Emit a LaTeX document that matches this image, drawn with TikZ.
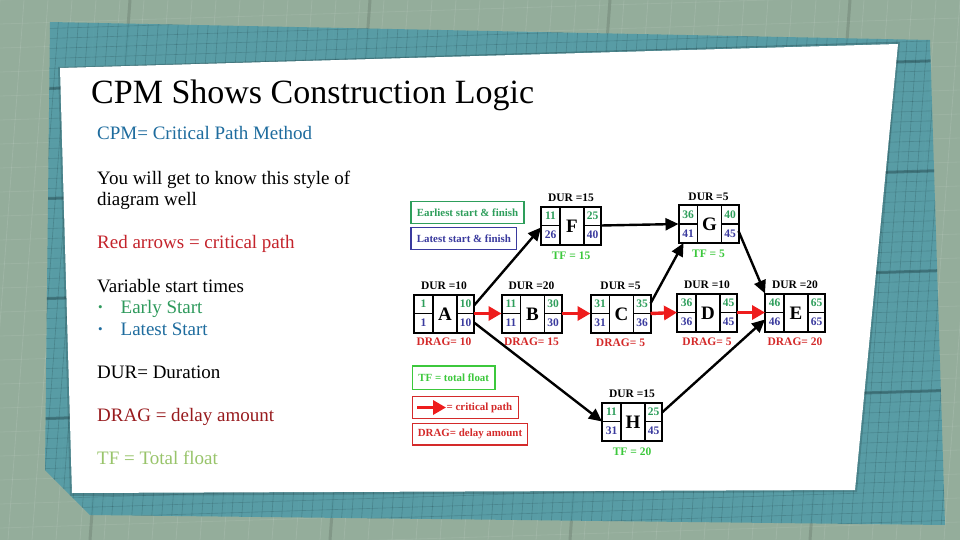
\documentclass[tikz,border=0pt]{standalone}
\usepackage{fontspec}
\setmainfont{Liberation Serif}
\usetikzlibrary{arrows.meta,calc}
\definecolor{sage}{HTML}{94AD9B}
\definecolor{tealbg}{HTML}{4E9AA7}
\definecolor{ngreen}{HTML}{2E9E5B}
\definecolor{nblue}{HTML}{3A3A9E}
\definecolor{dred}{HTML}{D42A2A}
\definecolor{cpred}{HTML}{EE1C1C}
\definecolor{tfgreen}{HTML}{3CC83C}
\definecolor{txtblue}{HTML}{1E6C9E}
\definecolor{txtgreen}{HTML}{2E9A5C}
\definecolor{txtred}{HTML}{C4232B}
\definecolor{txtdred}{HTML}{981B1E}
\definecolor{txtlgreen}{HTML}{98C46A}
\newcommand\cpmbox[9]{%
  \node[cpmb] (#1) at (#2,#3) {};
  \draw[cpml] ($(#1.north west)+(19,0)$) -- ($(#1.south west)+(19,0)$);
  \draw[cpml] ($(#1.north east)+(-17,0)$) -- ($(#1.south east)+(-17,0)$);
  \draw[cpml] (#1.west) -- ++(19,0);
  \draw[cpml] (#1.east) -- ++(-17,0);
  \node[cnum, text=ngreen] (#1-es) at ($(#1.north west)+(9.5,9.5)$) {#5};
  \node[cnum, text=ngreen] (#1-ef) at ($(#1.north east)+(-8.5,9.5)$) {#6};
  \node[cnum, text=nblue] (#1-ls) at ($(#1.south west)+(9.5,-9.5)$) {#7};
  \node[cnum, text=nblue] (#1-lf) at ($(#1.south east)+(-8.5,-9.5)$) {#8};
  \node[letter] (#1-id) at ($(#1.center)+(1,0.5)$) {#4};
  \node[durl] (#1-dur) at ($(#1.north)+(0,-8.5)$) {DUR =#9};
}
\begin{document}
\begin{tikzpicture}[x=1pt,y=-1pt,
  cpmb/.style={draw, line width=2pt, minimum width=60pt, minimum height=38pt, inner sep=0pt, outer sep=0pt},
  cpml/.style={line width=1.4pt},
  cnum/.style={font=\fontsize{11.5}{11.5}\selectfont\bfseries, inner sep=0pt},
  letter/.style={font=\fontsize{19}{19}\selectfont\bfseries, inner sep=0pt},
  durl/.style={font=\fontsize{11.5}{11.5}\selectfont\bfseries, inner sep=0pt},
  dragl/.style={font=\fontsize{11.5}{11.5}\selectfont\bfseries, text=dred, inner sep=0pt},
  tfl/.style={font=\fontsize{11.5}{11.5}\selectfont\bfseries, text=tfgreen, inner sep=0pt},
  leg/.style={font=\fontsize{10.9}{10.9}\selectfont\bfseries, line width=1.4pt, inner sep=0pt},
  blk/.style={draw=black, line width=2.4pt, -{Triangle[length=13pt,width=12pt]}},
  crit/.style={draw=cpred, line width=3.4pt, -{Triangle[length=13pt,width=14pt]}},
  lefttxt/.style={font=\fontsize{19}{19}\selectfont, anchor=base west, inner sep=0pt},
]
\useasboundingbox (0,0) rectangle (960,540);
% background
\fill[sage] (0,0) rectangle (960,540);
\begin{scope}
  \clip (0,0) rectangle (960,540);
  \foreach \i in {0,24,...,1000} \draw[white, opacity=0.10, line width=0.8pt] (\i,0) -- (\i-40,540);
  \foreach \j in {0,24,...,560} \draw[white, opacity=0.08, line width=0.8pt] (0,\j) -- (960,\j-30);
  \foreach \i in {130,370,610,850} \draw[black!40!sage, opacity=0.3, line width=3pt] (\i,0) -- (\i-40,540);
\end{scope}
\fill[tealbg, opacity=0.85] (50,22) -- (930,40) -- (945,525) -- (90,515) -- (45,470) -- cycle;
\begin{scope}
  \clip (50,22) -- (930,40) -- (945,525) -- (90,515) -- (45,470) -- cycle;
  \foreach \i in {0,10,...,1000} \draw[black!60!tealbg, opacity=0.25, line width=0.6pt] (\i,0) -- (\i-40,540);
  \foreach \j in {0,10,...,560} \draw[black!60!tealbg, opacity=0.22, line width=0.6pt] (0,\j) -- (960,\j-30);
  \foreach \j in {90,200,300,420} \draw[black!60!tealbg, opacity=0.4, line width=3pt] (0,\j) -- (960,\j-30);
\end{scope}
% card
\fill[black, opacity=0.15] (58,67) -- (900,42) -- (857,492) -- (70,496) -- cycle;
\fill[white] (60,68) -- (898,44) -- (855,490) -- (72,493) -- cycle;

% left text
\node[anchor=base west, inner sep=0pt, font=\fontsize{34}{34}\selectfont] (title) at (91,104) {CPM Shows Construction Logic};
\node[lefttxt, text=txtblue] (t1) at (97,140) {CPM= Critical Path Method};
\node[lefttxt] (t2) at (97,185) {You will get to know this style of};
\node[lefttxt] (t3) at (97,205.5) {diagram well};
\node[lefttxt, text=txtred] (t4) at (97,248) {Red arrows = critical path};
\node[lefttxt] (t5) at (97,292) {Variable start times};
\node[lefttxt, text=txtgreen, font=\fontsize{13}{13}\selectfont] (b1) at (98,311.5) {•};
\node[lefttxt, text=txtgreen] (t6) at (120.5,313) {Early Start};
\node[lefttxt, text=txtblue, font=\fontsize{13}{13}\selectfont] (b2) at (98,333.5) {•};
\node[lefttxt, text=txtblue] (t7) at (120.5,335) {Latest Start};
\node[lefttxt] (t8) at (97,378) {DUR= Duration};
\node[lefttxt, text=txtdred] (t9) at (97,421) {DRAG = delay amount};
\node[lefttxt, text=txtlgreen] (t10) at (97,464) {TF = Total float};

% legend
\node[leg, draw=ngreen, text=ngreen, minimum width=113pt, minimum height=21.6pt] (l1) at (467.5,212.5) {Earliest start \& finish};
\node[leg, draw=nblue, text=nblue, minimum width=105.7pt, minimum height=21.6pt] (l2) at (463.9,238.5) {Latest start \& finish};
\node[leg, draw=tfgreen, text=tfgreen, minimum width=82.7pt, minimum height=23.3pt] (l3) at (453.7,377.7) {TF = total float};
\node[leg, draw=dred, minimum width=106pt, minimum height=21.6pt] (l4) at (465.3,407.5) {};
\node[leg, text=dred, anchor=west] (l4t) at (446,407.5) {= critical path};
\coordinate (l4a) at (417,407.5);
\draw[crit] (l4a) -- (l4t.west);
\node[leg, draw=dred, text=dred, minimum width=115.4pt, minimum height=21.7pt] (l5) at (470,434.2) {DRAG= delay amount};

% boxes
\cpmbox{A}{444}{313.5}{A}{1}{10}{1}{10}{10}
\cpmbox{B}{531.5}{313.5}{B}{11}{30}{11}{30}{20}
\cpmbox{C}{620.5}{313.5}{C}{31}{35}{31}{36}{5}
\cpmbox{D}{707}{312.5}{D}{36}{45}{36}{45}{10}
\cpmbox{E}{795}{312.5}{E}{46}{65}{46}{65}{20}
\cpmbox{F}{571}{225.5}{F}{11}{25}{26}{40}{15}
\cpmbox{G}{708.5}{224}{G}{36}{40}{41}{45}{5}
\cpmbox{H}{632}{421.5}{H}{11}{25}{31}{45}{15}

\node[dragl] (A-drag) at ($(A.south)+(0,9.5)$) {DRAG= 10};
\node[dragl] (B-drag) at ($(B.south)+(0,9.5)$) {DRAG= 15};
\node[dragl] (C-drag) at ($(C.south)+(0,10.5)$) {DRAG= 5};
\node[dragl] (D-drag) at ($(D.south)+(0,10.5)$) {DRAG= 5};
\node[dragl] (E-drag) at ($(E.south)+(0,10.5)$) {DRAG= 20};
\node[tfl] (F-tf) at ($(F.south)+(0,11)$) {TF = 15};
\node[tfl] (G-tf) at ($(G.south)+(0,11)$) {TF = 5};
\node[tfl] (H-tf) at ($(H.south)+(0,11)$) {TF = 20};

% connectors
\draw[crit] (A.east) -- (B.west);
\draw[crit] (B.east) -- (C.west);
\draw[crit] (C.east) -- (D.west);
\draw[crit] (D.east) -- (E.west);
\draw[blk] ($(A.north east)+(0,11)$) -- ($(F.west)+(0,2)$);
\draw[blk] ($(A.south east)+(0,-10)$) -- (H.west);
\draw[blk] (F.east) -- (G.west);
\draw[blk] ($(C.north east)+(0,9)$) -- ($(G.south west)+(5,0)$);
\draw[blk] ($(G.south east)+(0,-12)$) -- (E.north west);
\draw[blk] ($(H.north east)+(0,10)$) -- ($(E.south west)+(0,-12)$);
\end{tikzpicture}
\end{document}
